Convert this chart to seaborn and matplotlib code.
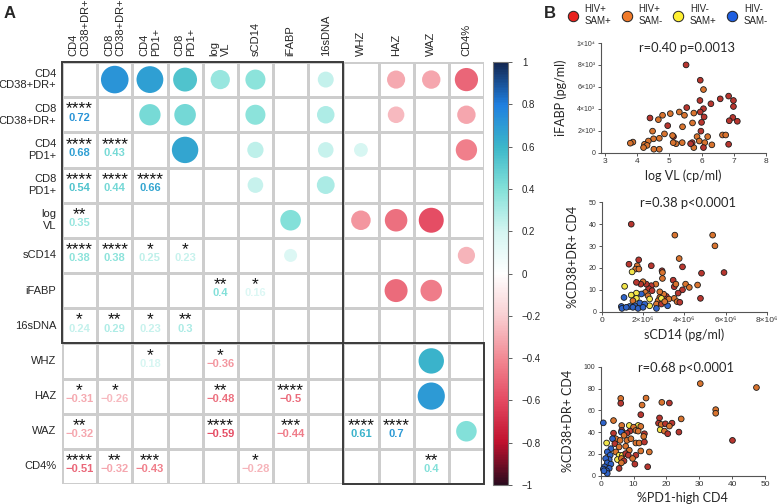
import numpy as np
import pandas as pd
import matplotlib
matplotlib.use("Agg")
import matplotlib.pyplot as plt
import seaborn as sns
from matplotlib.colors import LinearSegmentedColormap, Normalize, ListedColormap
from matplotlib.cm import ScalarMappable
from matplotlib.lines import Line2D
from matplotlib.patches import Rectangle

# ---------------- data: panel A ----------------
variables = ["CD4\nCD38+DR+", "CD8\nCD38+DR+", "CD4\nPD1+", "CD8\nPD1+", "log\nVL",
             "sCD14", "iFABP", "16sDNA", "WHZ", "HAZ", "WAZ", "CD4%"]

pair_row = [1, 2, 2, 3, 3, 3, 4, 5, 5, 5, 5, 6, 6, 7, 7, 7, 7, 8, 8,
            9, 9, 9, 9, 10, 10, 10, 10, 10, 11, 11, 11, 11, 11]
pair_col = [0, 0, 1, 0, 1, 2, 0, 0, 1, 2, 3, 4, 5, 0, 1, 2, 3, 2, 4,
            0, 1, 4, 6, 0, 4, 6, 8, 9, 0, 1, 2, 5, 10]
pair_r = [0.72, 0.68, 0.43, 0.54, 0.44, 0.66, 0.35, 0.38, 0.38, 0.25, 0.23, 0.4, 0.16,
          0.24, 0.29, 0.23, 0.3, 0.18, -0.36, -0.31, -0.26, -0.48, -0.5, -0.32, -0.59,
          -0.44, 0.61, 0.7, -0.51, -0.32, -0.43, -0.28, 0.4]
pair_stars = ["****", "****", "****", "****", "****", "****", "**", "****", "****", "*", "*",
              "**", "*", "*", "**", "*", "**", "*", "*", "*", "*", "**", "****", "**", "****",
              "***", "****", "****", "****", "**", "***", "*", "**"]

cbar_ticks = [-1, -0.8, -0.6, -0.4, -0.2, 0, 0.2, 0.4, 0.6, 0.8, 1]
cbar_labels = ["\u22121", "\u22120.8", "\u22120.6", "\u22120.4", "\u22120.2", "0",
               "0.2", "0.4", "0.6", "0.8", "1"]

# ---------------- data: panel B ----------------
groups = ["HIV+\nSAM+", "HIV+\nSAM-", "HIV-\nSAM+", "HIV-\nSAM-"]
code_to_group = {"R": groups[0], "O": groups[1], "Y": groups[2], "B": groups[3]}

s1_x = [5.52, 5.96, 6.06, 6.58, 6.84, 6.99, 6.99, 5.95, 6.29, 6.06, 5.54, 5.96, 6.08, 5.31,
        5.47, 5.76, 5.03, 4.79, 4.66, 4.40, 4.48, 4.95, 5.41, 5.72, 6.00, 6.97, 7.11, 6.86,
        6.65, 6.75, 6.84, 6.19, 5.98, 5.86, 5.93, 6.10, 6.32, 6.06, 5.76, 5.71, 5.66, 5.40,
        5.21, 5.12, 5.13, 5.10, 4.85, 4.69, 4.51, 4.35, 4.23, 4.31, 4.20, 4.52, 4.69, 3.87, 3.79]
s1_y = [8000, 6600, 5750, 4900, 5150, 4750, 4200, 4750, 4450, 4000, 4100, 3700, 3250, 3700,
        3400, 3600, 3550, 3400, 3000, 3150, 1950, 2450, 2350, 2700, 2750, 3200, 2850, 2900,
        1600, 1600, 750, 1450, 1950, 1450, 1050, 900, 700, 450, 450, 900, 800, 900,
        800, 900, 1450, 1550, 1700, 1300, 1250, 1050, 750, 650, 450, 300, 300, 950, 850]
s1_g = ["R", "R", "O", "R", "R", "R", "R", "R", "R", "R", "R", "R", "R", "O",
        "O", "O", "O", "O", "O", "R", "O", "R", "O", "O", "R", "R", "R", "R",
        "O", "O", "R", "O", "R", "O", "O", "O", "O", "R", "O", "R", "R", "O",
        "O", "O", "R", "O", "O", "O", "O", "O", "O", "O", "O", "O", "O", "O", "O"]

s2_x = [1.43, 3.54, 5.37, 5.48, 3.75, 1.79, 1.32, 2.40, 1.72, 1.64, 1.80, 1.47, 2.92, 2.94,
        3.91, 4.83, 5.92, 2.94, 3.46, 3.51, 3.59, 4.06, 4.24, 4.64, 3.91, 3.70, 4.78, 3.51,
        3.65, 3.78, 3.13, 3.25, 3.00, 2.81, 2.73, 2.65, 2.89, 2.62, 2.81, 2.40, 2.27, 2.16,
        2.00, 1.89, 1.68, 2.44, 2.11, 2.24, 2.32, 2.32, 1.92, 1.68, 1.43, 1.11, 1.08, 1.68,
        1.51, 1.84, 2.08, 1.60, 1.35, 0.95, 0.98, 1.19, 1.51, 1.76, 2.00, 2.65, 3.19, 2.89, 3.05]
s2_y = [40, 35, 35, 30.1, 24.3, 23.7, 21.7, 21, 21, 19.5, 19.5, 18.2, 18.7, 17.9,
        20.5, 17.6, 17.9, 15.2, 14.4, 11.4, 12.6, 12.6, 11.1, 12.2, 10, 8.5, 6.1, 6.1,
        4.6, 4.3, 7, 5.8, 8, 6.5, 5, 3.5, 6.1, 12.6, 9.1, 11.9, 10.6, 12.6,
        13.7, 12.6, 13.4, 9.6, 8.8, 7.3, 5.8, 2.7, 8.1, 8.5, 7.6, 11.6, 6.5, 6.1,
        5, 4, 3.5, 2.7, 2.4, 2.4, 1.5, 2, 2, 1.5, 2, 1.5, 2.7, 3.5, 4.6]
s2_g = ["R", "O", "O", "O", "O", "R", "R", "R", "O", "O", "O", "Y", "R", "O",
        "R", "R", "R", "O", "R", "R", "O", "O", "O", "O", "R", "R", "R", "O",
        "O", "R", "R", "O", "O", "O", "O", "O", "Y", "O", "O", "R", "R", "R",
        "O", "R", "R", "R", "O", "O", "Y", "Y", "B", "Y", "Y", "Y", "B", "Y",
        "O", "B", "B", "B", "B", "B", "B", "B", "B", "B", "B", "B", "B", "R", "O"]

s3_x = [30.3, 47.4, 6.1, 6.1, 13.8, 12.6, 18.6, 20.9, 12.2, 35, 35, 0.8, 3.9, 17.9, 24.5,
        17.6, 18.4, 19.7, 21.7, 20.9, 18.1, 19.4, 20.4, 23.8, 40.1, 6.4, 6.4, 8.7, 11.4,
        12.2, 10, 10.7, 8.9, 8, 11.4, 13.3, 13.1, 6.3, 3.9, 7.1, 4.6, 5.9, 8, 9.2, 10.7,
        11.7, 13.3, 3.6, 1.8, 4.3, 5.6, 7.6, 8.7, 12.2, 14.8, 3.1, 2.0, 2.9, 4.6, 5.6,
        6.6, 7.6, 8.4, 10.7, 5.1, 6.3, 7.1, 10.4, 9.7, 2.6, 1.5, 2.0, 3.1, 1.2, 2.6,
        0.8, 1.8, 5.6, 6.3, 14.3, 2.0, 1.0]
s3_y = [84.5, 80.9, 70.9, 66.4, 71.2, 64.8, 67.3, 66.7, 56, 60.6, 57.3, 48.5, 50.6, 53, 52.1,
        48.2, 47, 47.6, 48.2, 45.5, 42.1, 40.9, 38.5, 40, 32.4, 46.1, 41.5, 46.1, 46.1,
        45.2, 44.5, 41.5, 40.9, 39, 40.9, 38.5, 36, 40, 39, 37, 33.9, 32.4, 32.4, 33.9, 30,
        30, 30.9, 33.9, 30, 29.4, 26.4, 27, 23.3, 22.7, 21.8, 24.8, 21.8, 18.8, 21.8, 18.8,
        18.8, 20.3, 18.8, 18.8, 14.8, 15.8, 13.6, 10.6, 15.8, 14.8, 15.8, 11.8, 10.6, 8.2, 6.7,
        6.1, 4.5, 6.7, 11.8, 8.2, 2.1, 4.5]
s3_g = ["O", "O", "O", "R", "O", "O", "O", "R", "R", "O", "O", "B", "O", "R", "O",
        "R", "O", "R", "R", "O", "Y", "O", "R", "R", "R", "O", "R", "Y", "Y",
        "O", "O", "O", "R", "R", "O", "R", "O", "B", "R", "O", "O", "O", "O", "O", "O",
        "O", "R", "B", "Y", "R", "O", "O", "O", "O", "O", "B", "B", "B", "O", "Y",
        "Y", "R", "R", "R", "Y", "O", "R", "R", "O", "B", "B", "B", "B", "B", "B",
        "B", "B", "R", "O", "R", "B", "B"]

# ---------------- styling ----------------
sns.set_theme(style="white")
plt.rcParams["font.family"] = ["Liberation Sans", "DejaVu Sans"]

W, H = 777, 504
fig = plt.figure(figsize=(W / 100, H / 100), dpi=100)


def rect(l, t, r, b):
    return [l / W, 1 - b / H, (r - l) / W, (b - t) / H]


cmap = LinearSegmentedColormap.from_list("corr", [
    (0.0, "#2b0b1e"), (0.1, "#c0112e"), (0.2, "#e44a62"), (0.3, "#f28a94"),
    (0.4, "#f9cfd2"), (0.5, "#ffffff"), (0.6, "#d4f5f1"), (0.7, "#84e1d9"),
    (0.8, "#3cb7c9"), (0.9, "#1f7fe0"), (1.0, "#13254f")])
norm = Normalize(-1, 1)

# ---------------- panel A ----------------
ax = fig.add_axes(rect(62, 62, 484, 484))
n = len(variables)
sns.heatmap(np.zeros((n, n)), ax=ax, cmap=ListedColormap(["white"]), cbar=False,
            linewidths=0.9, linecolor="#cdcdcd", xticklabels=variables,
            yticklabels=variables)
ax.xaxis.tick_top()
ax.set_xticklabels(variables, rotation=90, ha="center", va="bottom",
                   multialignment="left", fontsize=8)
ax.set_yticklabels(variables, rotation=0, ha="right", va="center",
                   multialignment="right", fontsize=8)
ax.tick_params(axis="both", length=0, pad=4)

rr = np.array(pair_r)
pr = np.array(pair_row)
pc = np.array(pair_col)
cols = [cmap(norm(v)) for v in rr]
ax.scatter(pr + 0.5, pc + 0.5, s=548 * np.abs(rr), c=cols, linewidths=0, zorder=4)
for r_, c_, v, st, col in zip(pr, pc, rr, pair_stars, cols):
    txt = f"{v:g}".replace("-", "\u2212")
    ax.text(c_ + 0.5, r_ + 0.58, txt, ha="center", va="center", fontsize=8,
            fontweight="bold", color=col, zorder=5)
    ax.text(c_ + 0.5, r_ + 0.55, st, ha="center", va="bottom", fontsize=12.5,
            color="#111111", zorder=5)

ax.add_patch(Rectangle((0, 0), 8, 8, fill=False, lw=1.4, ec="#3a3a3a", zorder=6, clip_on=False))
ax.add_patch(Rectangle((8, 8), 4, 4, fill=False, lw=1.4, ec="#3a3a3a", zorder=6, clip_on=False))

cax = fig.add_axes(rect(493, 62, 508, 485))
cb = fig.colorbar(ScalarMappable(norm=norm, cmap=cmap), cax=cax, ticks=cbar_ticks)
cb.ax.set_yticklabels(cbar_labels)
cb.outline.set_edgecolor("#777777")
cb.outline.set_linewidth(0.8)
cb.ax.tick_params(length=3, width=0.6, labelsize=7, color="#444444", pad=7)

fig.text(10 / W, 1 - 13 / H, "A", fontsize=12, fontweight="bold", ha="center", va="center")
fig.text(550 / W, 1 - 13 / H, "B", fontsize=12, fontweight="bold", ha="center", va="center")

# ---------------- panel B ----------------
palette = {groups[0]: "#b8362f", groups[1]: "#d9742f", groups[2]: "#f2e54a", groups[3]: "#2f63c8"}
leg_palette = {groups[0]: "#e8221e", groups[1]: "#f07a2a", groups[2]: "#fff033", groups[3]: "#1f5fe0"}

lab_font = ["Lato", "DejaVu Sans"]
tick_font = ["Liberation Sans", "DejaVu Sans"]


def panel(rect_, xs, ys, gs, xlim, ylim, xticks, xticklabels, yticks, yticklabels,
          xlabel, ylabel, title, title_y):
    a = fig.add_axes(rect_)
    df = pd.DataFrame({"x": xs, "y": ys, "g": [code_to_group[g] for g in gs]})
    sns.scatterplot(data=df, x="x", y="y", hue="g", hue_order=groups, palette=palette,
                    s=17, edgecolor="#1a1a1a", linewidth=0.6, legend=False, ax=a,
                    clip_on=False, zorder=3)
    a.set_xlim(*xlim)
    a.set_ylim(*ylim)
    a.set_xticks(xticks)
    a.set_xticklabels(xticklabels, fontsize=6, family=tick_font, color="#333333")
    a.set_yticks(yticks)
    a.set_yticklabels(yticklabels, fontsize=5, family=tick_font, color="#333333")
    a.set_facecolor("none")
    sns.despine(ax=a)
    for sp in ("left", "bottom"):
        a.spines[sp].set_color("#555555")
        a.spines[sp].set_linewidth(0.8)
    a.tick_params(axis="both", length=2.5, width=0.7, color="#555555", pad=1.5,
                  left=True, bottom=True)
    a.set_xlabel(xlabel, fontsize=9, family=lab_font, labelpad=3)
    a.set_ylabel(ylabel, fontsize=9, family=lab_font, labelpad=7)
    a.text(0.52, title_y, title, transform=a.transAxes, ha="center", va="center",
           fontsize=9.3, family=lab_font)
    return a


panel(rect(601, 43, 766, 152.5), s1_x, s1_y, s1_g, (2.88, 8), (0, 10000),
      [3, 4, 5, 6, 7, 8], ["3", "4", "5", "6", "7", "8"],
      [0, 2000, 4000, 6000, 8000, 10000],
      ["0", "2\u00d710\u00b3", "4\u00d710\u00b3", "6\u00d710\u00b3", "8\u00d710\u00b3", "1\u00d710\u2074"],
      "log VL (cp/ml)", "iFABP (pg/ml)", "r=0.40 p=0.0013", 0.95)

s2_xv = [v * 1e6 for v in s2_x]
panel(rect(601.7, 202.3, 767, 311.7), s2_xv, s2_y, s2_g, (0, 8e6), (0, 50),
      [0, 2e6, 4e6, 6e6, 8e6], ["0", "2\u00d710\u2076", "4\u00d710\u2076", "6\u00d710\u2076", "8\u00d710\u2076"],
      [0, 10, 20, 30, 40, 50], ["0", "10", "20", "30", "40", "50"],
      "sCD14 (pg/ml)", "%CD38+DR+ CD4", "r=0.38 p<0.0001", 0.99)

panel(rect(600.7, 366.7, 765, 475.7), s3_x, s3_y, s3_g, (0, 50), (0, 100),
      [0, 10, 20, 30, 40, 50], ["0", "10", "20", "30", "40", "50"],
      [0, 20, 40, 60, 80, 100], ["0", "20", "40", "60", "80", "100"],
      "%PD1-high CD4", "%CD38+DR+ CD4", "r=0.68 p<0.0001", 0.99)

handles = [Line2D([], [], marker="o", ls="none", markersize=7.5, markerfacecolor=leg_palette[g],
                  markeredgecolor="#222222", markeredgewidth=0.7) for g in groups]
fig.legend(handles, groups, ncol=4, loc="center left", bbox_to_anchor=(568 / W, 1 - 15 / H),
           frameon=False, fontsize=7, handletextpad=0.7, columnspacing=1.1,
           handlelength=1.0, borderaxespad=0, borderpad=0)

fig.savefig("out.png", dpi=100)
